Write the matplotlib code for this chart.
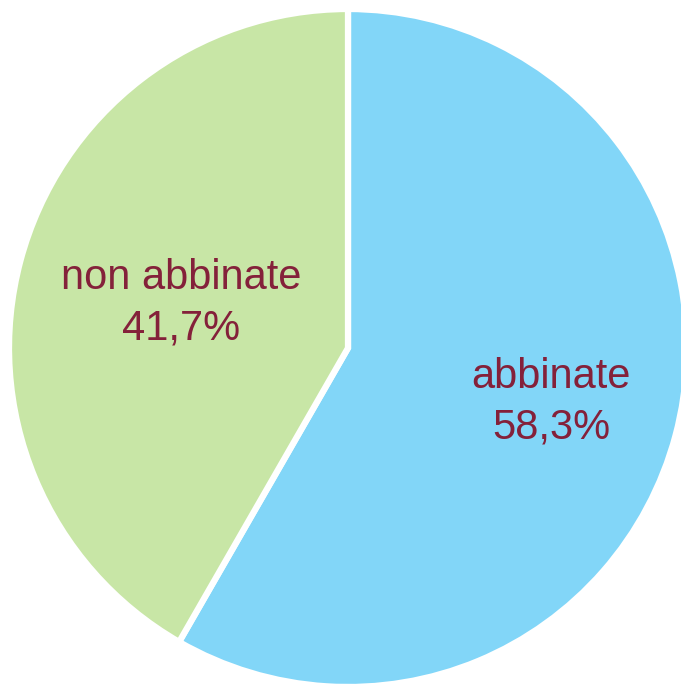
import matplotlib
matplotlib.use("Agg")
import matplotlib.pyplot as plt
import numpy as np

categories = ["abbinate", "non abbinate"]
values = [58.3, 41.7]
pct_labels = ["58,3%", "41,7%"]
colors = ["#82D6F8", "#C8E6A6"]
label_dist = [0.62, 0.51]

plt.rcParams['font.family'] = ['Liberation Sans', 'DejaVu Sans']

fig = plt.figure(figsize=(6.81, 6.87), dpi=100)
ax = fig.add_axes([0, 0, 1, 1])

cx, cy, r = 348, 339, 339
wedges, _ = ax.pie(values, colors=colors, startangle=90, counterclock=False,
                   center=(cx, cy), radius=r,
                   wedgeprops=dict(edgecolor='white', linewidth=4.5))
ax.set_xlim(0, 681)
ax.set_ylim(0, 687)
ax.set_aspect('equal')
ax.axis('off')
for w, cat, pl, d in zip(wedges, categories, pct_labels, label_dist):
    ang = np.deg2rad((w.theta1 + w.theta2) / 2)
    x = cx + d * r * np.cos(ang)
    y = cy + d * r * np.sin(ang)
    ax.text(x, y, f"{cat}\n{pl}", ha='center', va='center', fontsize=30,
            color='#84213A', linespacing=1.32)

fig.savefig("out.png", dpi=100)
